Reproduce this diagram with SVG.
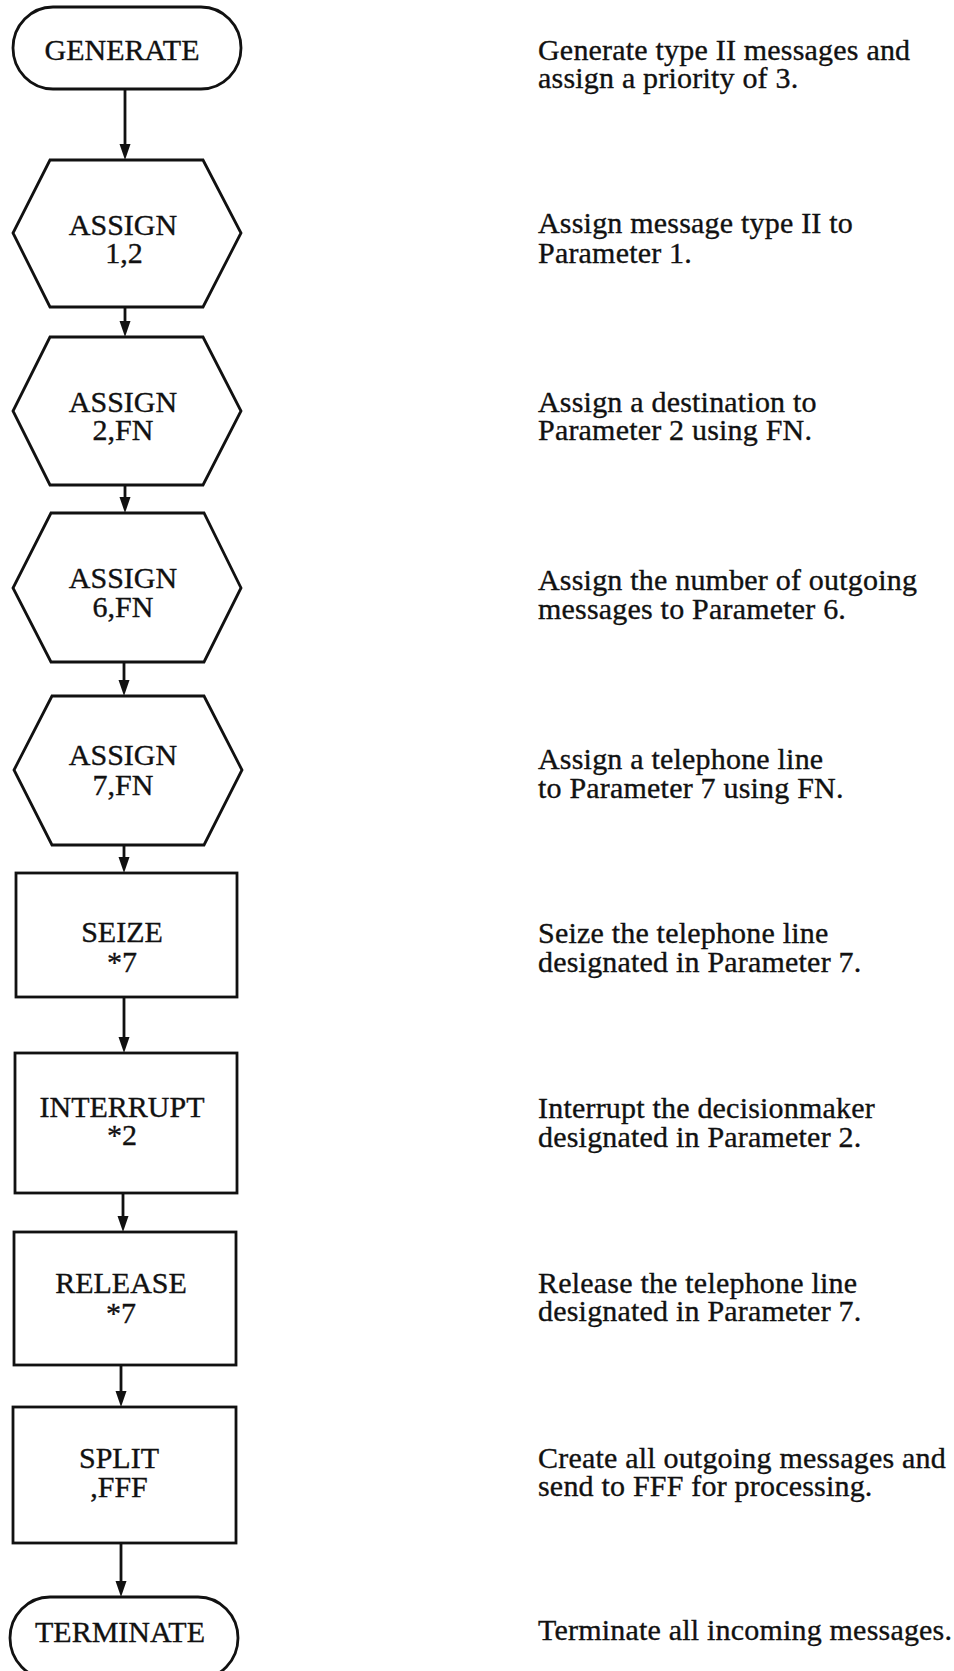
<svg xmlns="http://www.w3.org/2000/svg" width="954" height="1671" viewBox="0 0 954 1671">
  <style>
    .shape { fill: #ffffff; stroke: #111111; stroke-width: 2.8; stroke-linejoin: miter; }
    .wire { fill: none; stroke: #111111; stroke-width: 2.8; }
    .lbl { font-family: "Liberation Serif", "Times New Roman", serif; font-size: 30px; fill: #111111; stroke: #111111; stroke-width: 0.35; text-anchor: middle; }
    .note { font-family: "Liberation Serif", "Times New Roman", serif; font-size: 30px; fill: #111111; stroke: #111111; stroke-width: 0.35; letter-spacing: 0.2px; }
  </style>
  <defs>
    <!-- downward arrowhead, tip at the origin -->
    <path id="head" d="M-5.5,-16 L5.5,-16 L0,0 Z" fill="#111111"/>
  </defs>

  <rect width="954" height="1671" fill="#ffffff"/>

  <!-- connectors: vertical flow lines with filled arrowheads -->
  <g id="connectors">
    <line class="wire" x1="125" y1="89" x2="125" y2="146"/>
    <use href="#head" x="125" y="160"/>
    <line class="wire" x1="125" y1="307" x2="125" y2="323"/>
    <use href="#head" x="125" y="337"/>
    <line class="wire" x1="125" y1="485" x2="125" y2="499"/>
    <use href="#head" x="125" y="513"/>
    <line class="wire" x1="124" y1="662" x2="124" y2="682"/>
    <use href="#head" x="124" y="696"/>
    <line class="wire" x1="124" y1="845" x2="124" y2="859"/>
    <use href="#head" x="124" y="873"/>
    <line class="wire" x1="124" y1="997" x2="124" y2="1039"/>
    <use href="#head" x="124" y="1053"/>
    <line class="wire" x1="123" y1="1193" x2="123" y2="1218"/>
    <use href="#head" x="123" y="1232"/>
    <line class="wire" x1="121" y1="1365" x2="121" y2="1393"/>
    <use href="#head" x="121" y="1407"/>
    <line class="wire" x1="121" y1="1543" x2="121" y2="1583"/>
    <use href="#head" x="121" y="1597"/>
  </g>

  <!-- flowchart blocks -->
  <g id="generate">
    <rect class="shape" x="13" y="7" width="228" height="82" rx="40" ry="41"/>
    <text class="lbl" x="122" y="60">GENERATE</text>
  </g>

  <g id="assign-1">
    <polygon class="shape" points="50,160 203,160 241,233 203,307 50,307 13,233"/>
    <text class="lbl" x="123" y="235">ASSIGN</text>
    <text class="lbl" x="124" y="263">1,2</text>
  </g>

  <g id="assign-2">
    <polygon class="shape" points="50,337 203,337 241,411 203,485 50,485 13,411"/>
    <text class="lbl" x="123" y="412">ASSIGN</text>
    <text class="lbl" x="123" y="440">2,FN</text>
  </g>

  <g id="assign-6">
    <polygon class="shape" points="51,513 204,513 241,588 204,662 51,662 13,588"/>
    <text class="lbl" x="123" y="588">ASSIGN</text>
    <text class="lbl" x="123" y="617">6,FN</text>
  </g>

  <g id="assign-7">
    <polygon class="shape" points="52,696 204,696 242,770 204,845 52,845 14,770"/>
    <text class="lbl" x="123" y="765">ASSIGN</text>
    <text class="lbl" x="123" y="795">7,FN</text>
  </g>

  <g id="seize">
    <rect class="shape" x="16" y="873" width="221" height="124"/>
    <text class="lbl" x="122" y="942">SEIZE</text>
    <text class="lbl" x="122" y="972">*7</text>
  </g>

  <g id="interrupt">
    <rect class="shape" x="15" y="1053" width="222" height="140"/>
    <text class="lbl" x="122" y="1117">INTERRUPT</text>
    <text class="lbl" x="122" y="1145">*2</text>
  </g>

  <g id="release">
    <rect class="shape" x="14" y="1232" width="222" height="133"/>
    <text class="lbl" x="121" y="1293">RELEASE</text>
    <text class="lbl" x="121" y="1323">*7</text>
  </g>

  <g id="split">
    <rect class="shape" x="13" y="1407" width="223" height="136"/>
    <text class="lbl" x="119" y="1468">SPLIT</text>
    <text class="lbl" x="119" y="1497">,FFF</text>
  </g>

  <g id="terminate">
    <rect class="shape" x="10" y="1597" width="228" height="82" rx="40" ry="41"/>
    <text class="lbl" x="120" y="1642">TERMINATE</text>
  </g>

  <!-- explanatory notes -->
  <g id="notes">
    <text class="note" x="538" y="60">Generate type II messages and</text>
    <text class="note" x="538" y="88">assign a priority of 3.</text>
    <text class="note" x="538" y="233">Assign message type II to</text>
    <text class="note" x="538" y="263">Parameter 1.</text>
    <text class="note" x="538" y="412">Assign a destination to</text>
    <text class="note" x="538" y="440">Parameter 2 using FN.</text>
    <text class="note" x="538" y="590">Assign the number of outgoing</text>
    <text class="note" x="538" y="619">messages to Parameter 6.</text>
    <text class="note" x="538" y="769">Assign a telephone line</text>
    <text class="note" x="538" y="798">to Parameter 7 using FN.</text>
    <text class="note" x="538" y="943">Seize the telephone line</text>
    <text class="note" x="538" y="972">designated in Parameter 7.</text>
    <text class="note" x="538" y="1118">Interrupt the decisionmaker</text>
    <text class="note" x="538" y="1147">designated in Parameter 2.</text>
    <text class="note" x="538" y="1293">Release the telephone line</text>
    <text class="note" x="538" y="1321">designated in Parameter 7.</text>
    <text class="note" x="538" y="1468">Create all outgoing messages and</text>
    <text class="note" x="538" y="1496">send to FFF for processing.</text>
    <text class="note" x="538" y="1640">Terminate all incoming messages.</text>
  </g>
</svg>
